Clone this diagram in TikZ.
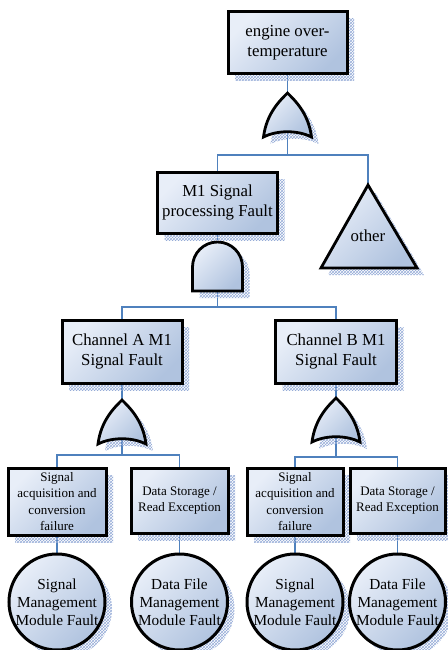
\documentclass[tikz,border=0pt]{standalone}
\usepackage{fontspec}
\setmainfont{Liberation Serif}
\usetikzlibrary{shadows,patterns,backgrounds}
\definecolor{lnk}{RGB}{79,129,189}
\definecolor{fl}{RGB}{232,238,248}
\definecolor{fd}{RGB}{176,195,223}
\definecolor{shd}{RGB}{150,172,215}
\tikzset{
  shad/.style={drop shadow={shadow xshift=7pt, shadow yshift=-7pt, pattern=crosshatch, pattern color=shd, opacity=1}},
  fillstyle/.style={draw=black, top color=fl, bottom color=fd, shading angle=45, shad},
  evbox/.style={fillstyle, rectangle, line width=3pt, align=center, inner sep=0pt, font=\fontsize{16.8}{20}\selectfont},
  smbox/.style={evbox, font=\fontsize{13}{16.2}\selectfont},
  basic/.style={fillstyle, circle, line width=3pt, minimum size=96pt, align=center, inner sep=0pt, font=\fontsize{15.3}{18}\selectfont},
  gateline/.style={fillstyle, line width=2.8pt},
  conn/.style={draw=lnk, line width=1.3pt},
  orgate/.pic={
    \coordinate (-top) at (0,0);
    \coordinate (-bot) at (0,40);
    \path[gateline] (-24,44) .. controls (-21,20) and (-7,7) .. (0,0)
      .. controls (7,7) and (21,20) .. (24,44)
      .. controls (10,37) and (-10,37) .. cycle;
  },
  andgate/.pic={
    \coordinate (-top) at (0,0);
    \coordinate (-bot) at (0,49);
    \path[gateline] (-25,49) -- (-25,25) .. controls (-25,11.2) and (-13.8,0) .. (0,0)
      .. controls (13.8,0) and (25,11.2) .. (25,25) -- (25,49) -- cycle;
  }
}
\begin{document}
\begin{tikzpicture}[x=1pt,y=-1pt]
\useasboundingbox (0,0) rectangle (447,650);
% gates
\pic (g1) at (287.5,93) {orgate};
\pic (g2) at (217.5,242) {andgate};
\pic (gA) at (122,400) {orgate};
\pic (gB) at (336,398) {orgate};
% junctions
\coordinate (j1) at (287.5,155);
\coordinate (j2) at (217.5,307);
\coordinate (jA) at (122,455);
\coordinate (jB) at (336,457);
% events
\node[evbox, minimum width=119pt, minimum height=62pt] (top) at (287.5,43) {engine over-\\temperature};
\node[evbox, minimum width=120pt, minimum height=61pt] (m1) at (217.5,202.5) {M1 Signal\\processing Fault};
\node[evbox, minimum width=120pt, minimum height=63pt] (chA) at (122,351.5) {Channel A M1\\Signal Fault};
\node[evbox, minimum width=121pt, minimum height=63pt] (chB) at (336,351.5) {Channel B M1\\Signal Fault};
\coordinate (oth) at (368,185);
\path[gateline] (oth) -- (417,268) -- (321,268) -- cycle;
\node[font=\fontsize{16.8}{20}\selectfont] (othtxt) at (368,236) {other};
\node[smbox, minimum width=98pt, minimum height=67pt] (b1) at (57,501.5) {Signal\\acquisition and\\conversion\\failure};
\node[smbox, minimum width=97pt, minimum height=65pt] (b2) at (179.5,500.5) {Data Storage /\\Read Exception};
\node[smbox, minimum width=96pt, minimum height=67pt] (b3) at (295,501.5) {Signal\\acquisition and\\conversion\\failure};
\node[smbox, minimum width=95pt, minimum height=65pt] (b4) at (397.5,500.5) {Data Storage /\\Read Exception};
\node[basic] (c1) at (57,602) {Signal\\Management\\Module Fault};
\node[basic] (c2) at (179.5,602) {Data File\\Management\\Module Fault};
\node[basic] (c3) at (295,602) {Signal\\Management\\Module Fault};
\node[basic] (c4) at (397.5,602) {Data File\\Management\\Module Fault};
% connectors
\begin{scope}[on background layer]
\draw[conn] (top.south) -- (g1-top);
\draw[conn] (g1-bot) -- (j1);
\draw[conn] (m1.north) |- (j1) -| (oth);
\draw[conn] (m1.south) -- (g2-top);
\draw[conn] (g2-bot) -- (j2);
\draw[conn] (chA.north) |- (j2) -| (chB.north);
\draw[conn] (chA.south) -- (gA-top);
\draw[conn] (gA-bot) -- (jA);
\draw[conn] (b1.north) |- (jA) -| (b2.north);
\draw[conn] (chB.south) -- (gB-top);
\draw[conn] (gB-bot) -- (jB);
\draw[conn] (b3.north) |- (jB) -| (b4.north);
\draw[conn] (b1.south) -- (c1.north);
\draw[conn] (b2.south) -- (c2.north);
\draw[conn] (b3.south) -- (c3.north);
\draw[conn] (b4.south) -- (c4.north);
\end{scope}
\end{tikzpicture}
\end{document}
